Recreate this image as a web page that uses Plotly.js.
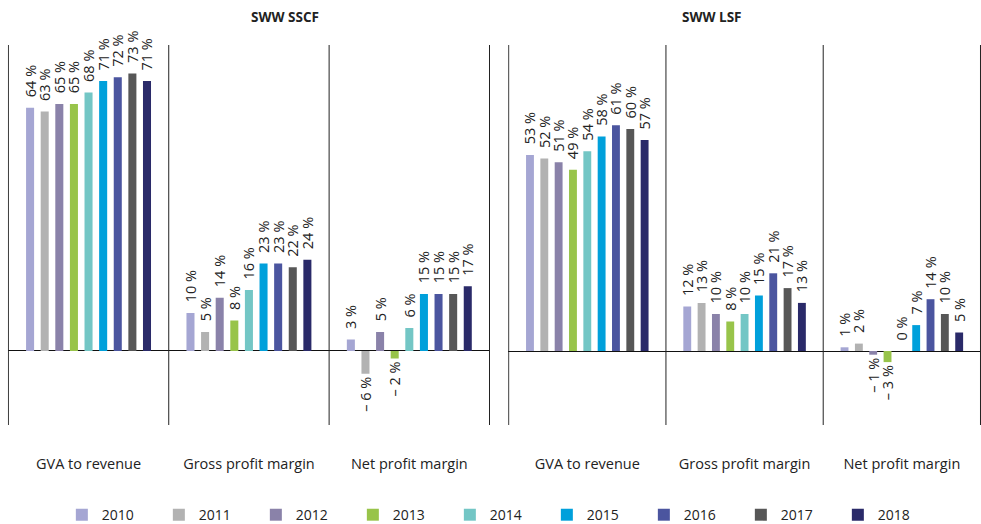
<!DOCTYPE html>
<html>
<head>
<meta charset="utf-8">
<script src="https://cdn.plot.ly/plotly-3.0.1.min.js"></script>
<style>
  html, body { margin: 0; padding: 0; background: #fff; }
  #chart { width: 981px; height: 524px; }
</style>
</head>
<body>
<div id="chart"></div>
<script>
// Categories and years
const CATEGORIES = ['GVA to revenue', 'Gross profit margin', 'Net profit margin'];
const YEARS = ['2010', '2011', '2012', '2013', '2014', '2015', '2016', '2017', '2018'];
const YEAR_COLORS = ['#a5a6d3', '#b2b2b2', '#8a82a9', '#98c44a', '#73c6c5',
                     '#00a0db', '#4b559f', '#575757', '#2a2a69'];

// SWW SSCF values (%), one array per indicator, 2010..2018
const SSCF_GVA   = [64, 63, 65, 65, 68, 71, 72, 73, 71];
const SSCF_GROSS = [10, 5, 14, 8, 16, 23, 23, 22, 24];
const SSCF_NET   = [3, -6, 5, -2, 6, 15, 15, 15, 17];

// SWW LSF values (%)
const LSF_GVA   = [53, 52, 51, 49, 54, 58, 61, 60, 57];
const LSF_GROSS = [12, 13, 10, 8, 10, 15, 21, 17, 13];
const LSF_NET   = [1, 2, -1, -3, 0, 7, 14, 10, 5];

// leading nbsp pushes positive labels a little further off the bar top
const fmt = (v) => (v < 0 ? '\u2013 ' + (-v) + ' %' : '\u00a0\u00a0' + v + ' %');
const FONT = 'Open Sans, DejaVu Sans, sans-serif';

const traces = [];
YEARS.forEach((yr, i) => {
  const sscf = [SSCF_GVA[i], SSCF_GROSS[i], SSCF_NET[i]];
  const lsf  = [LSF_GVA[i], LSF_GROSS[i], LSF_NET[i]];
  const common = {
    type: 'bar', name: yr, legendgroup: yr,
    marker: { color: YEAR_COLORS[i] },
    textposition: 'outside', textangle: -90, constraintext: 'none',
    cliponaxis: false,
    textfont: { family: FONT, size: 14.5, color: '#222' },
    hoverinfo: 'skip',
  };
  traces.push(Object.assign({}, common, {
    x: CATEGORIES, y: sscf, text: sscf.map(fmt), xaxis: 'x', yaxis: 'y',
  }));
  traces.push(Object.assign({}, common, {
    x: CATEGORIES, y: lsf, text: lsf.map(fmt), xaxis: 'x2', yaxis: 'y2', showlegend: false,
  }));
});

const xCommon = {
  type: 'category', showgrid: false, zeroline: false, showline: false,
  ticks: '', ticklabelstandoff: 28,
  tickfont: { family: FONT, size: 14.5, color: '#222' },
  fixedrange: true,
};
const yCommon = {
  showgrid: false, showticklabels: false, ticks: '', showline: false,
  zeroline: true, zerolinecolor: '#111', zerolinewidth: 1, fixedrange: true,
};

const dividers = [];
[['x', 'y'], ['x2', 'y2']].forEach(([xr, yr]) => {
  [-0.5, 0.5, 1.5, 2.5].forEach((p) => {
    dividers.push({ type: 'line', xref: xr, yref: yr + ' domain', x0: p, x1: p, y0: 0, y1: 1,
      line: { color: '#222', width: 1 } });
  });
});

const layout = {
  width: 981, height: 524,
  paper_bgcolor: '#fff', plot_bgcolor: '#fff',
  font: { family: FONT, color: '#222' },
  margin: { l: 0, r: 0, t: 45, b: 99 },
  barmode: 'group', bargap: 0.18, bargroupgap: 0.45,
  showlegend: true,
  xaxis:  Object.assign({}, xCommon, { domain: [0.008, 0.4995], anchor: 'y' }),
  xaxis2: Object.assign({}, xCommon, { domain: [0.518, 1.0], anchor: 'y2' }),
  yaxis:  Object.assign({}, yCommon, { range: [-19.5, 80.5], anchor: 'x' }),
  yaxis2: Object.assign({}, yCommon, { range: [-20, 82.7], anchor: 'x2' }),
  shapes: dividers,
  annotations: [
    { text: '<b>SWW SSCF</b>', xref: 'paper', yref: 'paper', x: 0.254, y: 1, yshift: 28,
      yanchor: 'middle', showarrow: false, font: { family: FONT, size: 13.5, color: '#222' } },
    { text: '<b>SWW LSF</b>', xref: 'paper', yref: 'paper', x: 0.758, y: 1, yshift: 28,
      yanchor: 'middle', showarrow: false, font: { family: FONT, size: 13.5, color: '#222' } },
  ],
  legend: {
    orientation: 'h', x: 0.508, xanchor: 'center',
    yref: 'container', y: 0.017, yanchor: 'middle',
    entrywidth: 52, font: { family: FONT, size: 14, color: '#222' },
    traceorder: 'normal',
  },
};

Plotly.newPlot('chart', traces, layout, { displayModeBar: false, staticPlot: true });
</script>
</body>
</html>
